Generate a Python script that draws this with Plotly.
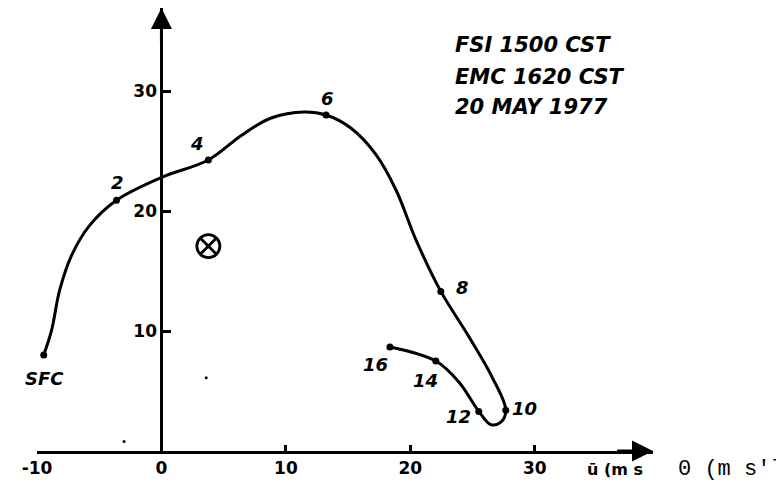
import plotly.graph_objects as go

# ---- data (u, v components in m/s) ----
curve_u = [-9.46, -8.82, -8.18, -7.22, -5.77, -3.61, 0.0, 3.77, 6.42, 8.82, 11.47,
           13.23, 15.24, 17.24, 18.85, 20.45, 22.45, 24.6, 26.6, 27.67, 27.27,
           26.46, 25.5, 23.9, 22.05, 18.36]
curve_v = [8.0, 10.1, 13.4, 16.3, 18.8, 20.9, 22.8, 24.25, 26.3, 27.75, 28.25,
           28.0, 26.9, 24.7, 21.75, 17.6, 13.3, 9.7, 6.1, 3.4, 2.4,
           2.2, 3.3, 5.75, 7.5, 8.67]

level_labels = ["SFC", "2", "4", "6", "8", "10", "12", "14", "16"]
level_u = [-9.46, -3.61, 3.77, 13.23, 22.45, 27.67, 25.5, 22.05, 18.36]
level_v = [8.0, 20.9, 24.25, 28.0, 13.3, 3.4, 3.3, 7.5, 8.67]

storm_u = [3.77]
storm_v = [17.08]

speck_u = [3.6, -3.0, 25.8]
speck_v = [6.1, 0.8, -1.4]

x_tick_vals = [-10, 0, 10, 20, 30]
x_tick_text = ["-10", "0", "10", "20", "30"]
y_tick_vals = [10, 20, 30]
y_tick_text = ["10", "20", "30"]

title_lines = ["FSI 1500 CST", "EMC 1620 CST", "20 MAY 1977"]
axis_text_bold = "ū (m s"
axis_text_mono = "0 (m s'l"

# ---- layout geometry (page body has an 8 px margin) ----
PAGE_W, PAGE_H = 784, 484
OFF = 8
W, H = PAGE_W - OFF, PAGE_H - OFF


def px_x(p):
    return (p - OFF) / W


def px_y(p):
    return 1 - (p - OFF) / H


x_range = [-10, 39.5]
x_domain = [px_x(37), px_x(653)]
y_range = [0, (451 - OFF) / 12.0]
y_domain = [px_y(451), 1.0]
y_axis_pos = x_domain[0] + (0 - x_range[0]) / (x_range[1] - x_range[0]) * (x_domain[1] - x_domain[0])

FONT = "DejaVu Sans"
lab_font = dict(family=FONT, size=18, color="black", weight="bold", style="italic")
title_font = dict(family=FONT, size=21, color="black", weight="bold", style="italic")

fig = go.Figure()

fig.add_trace(go.Scatter(
    x=curve_u, y=curve_v, mode="lines",
    line=dict(color="black", width=3, shape="spline", smoothing=1.0),
    hoverinfo="skip", showlegend=False))

fig.add_trace(go.Scatter(
    x=level_u, y=level_v, mode="markers",
    marker=dict(color="black", size=7),
    text=level_labels, showlegend=False))

fig.add_trace(go.Scatter(
    x=storm_u, y=storm_v, mode="markers",
    marker=dict(symbol="circle-x-open", size=23, color="black", line=dict(width=2.8, color="black")),
    showlegend=False))

fig.add_trace(go.Scatter(
    x=speck_u, y=speck_v, mode="markers", cliponaxis=False,
    marker=dict(color="black", size=3), hoverinfo="skip", showlegend=False))

# point labels
shifts = {
    "SFC": (1, -23), "2": (1, 18), "4": (-11, 17), "6": (1, 17), "8": (22, 4),
    "10": (19, 2), "12": (-20, -5), "14": (-10, -19), "16": (-14, -18),
}
for lab, u, v in zip(level_labels, level_u, level_v):
    dx, dy = shifts[lab]
    fig.add_annotation(x=u, y=v, text=lab, showarrow=False, xshift=dx, yshift=dy,
                       font=lab_font, xanchor="center", yanchor="middle")

# title block
title_y_px = [45, 77, 107]
for line, ypx in zip(title_lines, title_y_px):
    fig.add_annotation(xref="paper", yref="paper", x=px_x(453), y=px_y(ypx),
                       text=line, showarrow=False, xanchor="left", yanchor="middle",
                       font=title_font)

# axis arrows
fig.add_annotation(x=x_range[1], y=0, ax=x_range[1] - 3, ay=0, axref="x", ayref="y",
                   xref="x", yref="y", text="", showarrow=True, arrowhead=2,
                   arrowsize=1.4, arrowwidth=3, arrowcolor="black", standoff=0)
fig.add_annotation(x=0, y=y_range[1], ax=0, ay=y_range[1] - 3, axref="x", ayref="y",
                   xref="x", yref="y", text="", showarrow=True, arrowhead=2,
                   arrowsize=1.4, arrowwidth=3, arrowcolor="black", standoff=0)

# axis unit texts
fig.add_annotation(xref="paper", yref="paper", x=px_x(585), y=px_y(469),
                   text=axis_text_bold, showarrow=False, xanchor="left", yanchor="middle",
                   font=dict(family=FONT, size=16, color="black", weight="bold"))
fig.add_annotation(xref="paper", yref="paper", x=px_x(676), y=px_y(469),
                   text=axis_text_mono, showarrow=False, xanchor="left", yanchor="middle",
                   font=dict(family="Liberation Mono", size=22, color="black"))

tick_font = dict(family=FONT, size=17, color="black", weight="bold")
fig.update_layout(
    width=W, height=H, template="none",
    margin=dict(l=0, r=0, t=0, b=0, autoexpand=False),
    paper_bgcolor="white", plot_bgcolor="rgba(0,0,0,0)",
    showlegend=False,
    xaxis=dict(range=x_range, domain=x_domain, anchor="y", showgrid=False, zeroline=False,
               showline=True, linecolor="black", linewidth=3,
               tickmode="array", tickvals=x_tick_vals, ticktext=x_tick_text,
               ticks="inside", ticklen=6, tickwidth=2.5, tickcolor="black",
               tickfont=tick_font, automargin=False, fixedrange=True),
    yaxis=dict(range=y_range, domain=y_domain, anchor="free", position=y_axis_pos,
               showgrid=False, zeroline=False, showline=True, linecolor="black", linewidth=3,
               tickmode="array", tickvals=y_tick_vals, ticktext=y_tick_text,
               ticks="inside", ticklen=8, tickwidth=2.5, tickcolor="black",
               tickfont=tick_font, automargin=False, fixedrange=True),
)

fig.write_html("out.html")
